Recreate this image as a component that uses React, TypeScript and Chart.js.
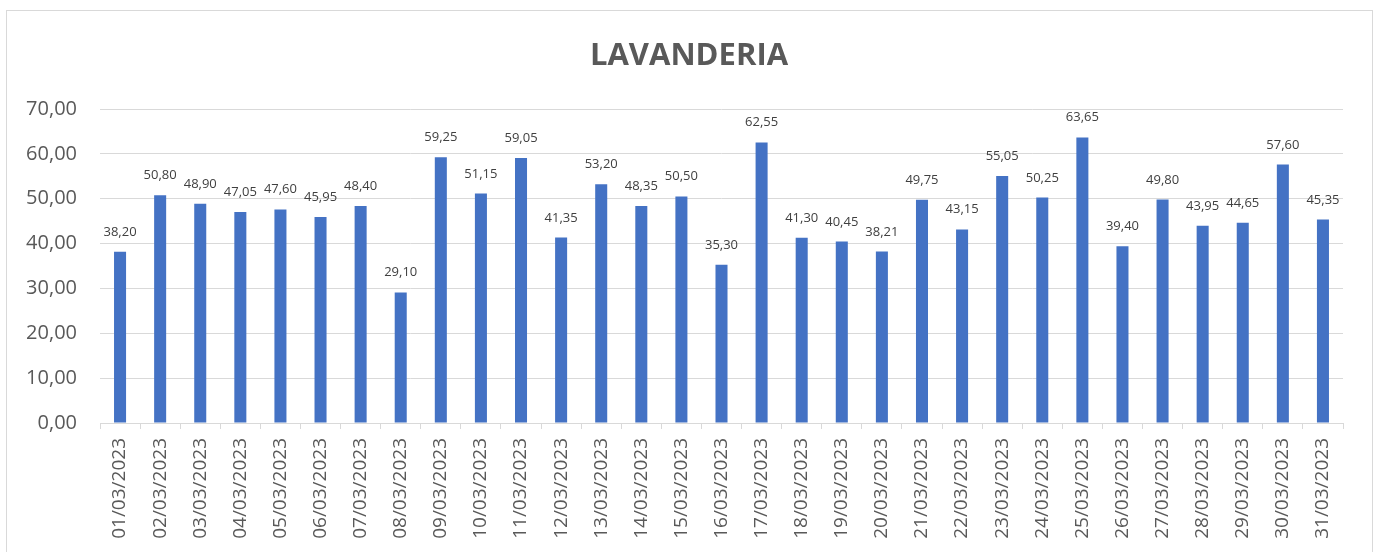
import React, { useEffect, useRef } from "react";
import { Chart, registerables } from "chart.js";

Chart.register(...registerables);

const TITLE = "LAVANDERIA";

const categories: string[] = [
  "01/03/2023", "02/03/2023", "03/03/2023", "04/03/2023", "05/03/2023", "06/03/2023",
  "07/03/2023", "08/03/2023", "09/03/2023", "10/03/2023", "11/03/2023", "12/03/2023",
  "13/03/2023", "14/03/2023", "15/03/2023", "16/03/2023", "17/03/2023", "18/03/2023",
  "19/03/2023", "20/03/2023", "21/03/2023", "22/03/2023", "23/03/2023", "24/03/2023",
  "25/03/2023", "26/03/2023", "27/03/2023", "28/03/2023", "29/03/2023", "30/03/2023",
  "31/03/2023",
];

const values: number[] = [
  38.2, 50.8, 48.9, 47.05, 47.6, 45.95, 48.4, 29.1, 59.25, 51.15, 59.05, 41.35,
  53.2, 48.35, 50.5, 35.3, 62.55, 41.3, 40.45, 38.21, 49.75, 43.15, 55.05, 50.25,
  63.65, 39.4, 49.8, 43.95, 44.65, 57.6, 45.35,
];

const yTicks = { min: 0, max: 70, step: 10 };

const fmt = (v: number) => v.toFixed(2).replace(".", ",");

const FONT = "'Open Sans', 'Liberation Sans', sans-serif";

const labelPlugin = {
  id: "barLabels",
  afterDatasetsDraw(chart: any) {
    const ctx = chart.ctx;
    const meta = chart.getDatasetMeta(0);
    ctx.save();
    ctx.font = `13px ${FONT}`;
    ctx.fillStyle = "#404040";
    ctx.textAlign = "center";
    ctx.textBaseline = "alphabetic";
    meta.data.forEach((el: any, i: number) => {
      ctx.fillText(fmt(values[i]), el.x, el.y - 16);
    });
    ctx.restore();
  },
};

const titlePlugin = {
  id: "customTitle",
  afterDraw(chart: any) {
    const ctx = chart.ctx;
    ctx.save();
    ctx.font = `bold 31px ${FONT}`;
    ctx.fillStyle = "#595959";
    ctx.textAlign = "center";
    ctx.textBaseline = "alphabetic";
    ctx.fillText(TITLE, chart.width / 2, 54);
    ctx.restore();
  },
};

export default function App() {
  const ref = useRef<HTMLCanvasElement | null>(null);

  useEffect(() => {
    if (!ref.current) return;
    const chart = new Chart(ref.current, {
      type: "bar",
      data: {
        labels: categories,
        datasets: [
          {
            data: values,
            backgroundColor: "#4472C4",
            borderWidth: 0,
            barPercentage: 0.3,
            categoryPercentage: 1,
          },
        ],
      },
      options: {
        animation: false,
        responsive: false,
        maintainAspectRatio: false,
        layout: { padding: { top: 98, right: 28, bottom: 0, left: 0 } },
        plugins: {
          legend: { display: false },
          title: { display: false },
          tooltip: { enabled: false },
        },
        scales: {
          x: {
            offset: true,
            grid: {
              display: true,
              drawOnChartArea: false,
              drawTicks: true,
              tickLength: 6,
              offset: true,
              color: "#d9d9d9",
            },
            border: { display: true, color: "#d9d9d9", width: 1 },
            ticks: {
              autoSkip: false,
              maxRotation: 90,
              minRotation: 90,
              padding: 9,
              color: "#595959",
              font: { family: FONT, size: 19 },
            },
            afterFit: (s: any) => {
              s.height = 129;
            },
          },
          y: {
            min: yTicks.min,
            max: yTicks.max,
            grid: { color: "#d9d9d9", drawTicks: false },
            border: { display: false },
            ticks: {
              stepSize: yTicks.step,
              padding: 23,
              color: "#595959",
              font: { family: FONT, size: 20 },
              callback: (v: any) => fmt(Number(v)),
            },
            afterFit: (s: any) => {
              s.width = 93;
            },
          },
        },
      },
      plugins: [labelPlugin, titlePlugin],
    });
    return () => chart.destroy();
  }, []);

  return (
    <div
      style={{
        position: "absolute",
        left: 6,
        top: 10,
        width: 1367,
        height: 560,
        border: "1px solid #d9d9d9",
        boxSizing: "border-box",
        background: "#fff",
      }}
    >
      <canvas
        ref={ref}
        width={1364}
        height={541}
        style={{ position: "absolute", left: 0, top: 0, width: 1364, height: 541 }}
      />
    </div>
  );
}
